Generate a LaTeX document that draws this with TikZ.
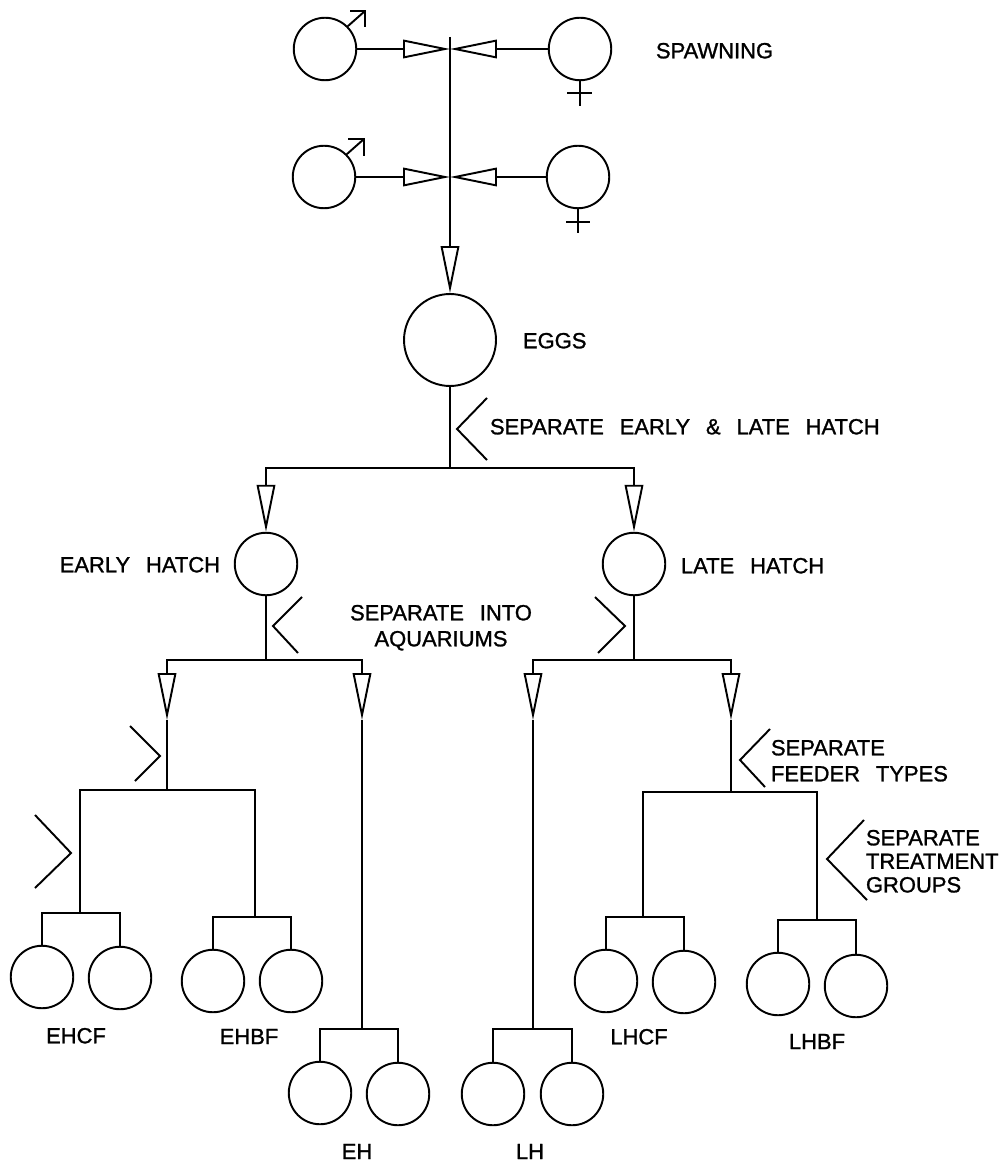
\documentclass[tikz,border=0pt]{standalone}
\usepackage{fontspec}
\newfontfamily\lettering[WordSpace=2.6,FakeBold=1.2]{Liberation Sans}
\usetikzlibrary{arrows.meta}
\tikzset{
  ring/.style={circle,draw,minimum size=1.25cm,inner sep=0pt},
  bigring/.style={circle,draw,minimum size=1.84cm,inner sep=0pt},
  lbl/.style={font={\lettering\fontsize{12.5}{14.8}\selectfont},inner sep=0pt},
  tightlbl/.style={font={\lettering\fontsize{12.5}{13.4}\selectfont},inner sep=0pt},
  arrowto/.style={-{Triangle[open,length=0.94cm,width=0.37cm]}}
}
\begin{document}
\begin{tikzpicture}[x=0.02cm,y=-0.02cm,line width=1.1pt]
\useasboundingbox (0,0) rectangle (1006,1165);
% spawning
\node[ring] (m1) at (325,49) {};
\node[ring] (f1) at (580,49) {};
\node[ring] (m2) at (324,177) {};
\node[ring] (f2) at (578,177) {};
\coordinate (c1) at (450,49);
\coordinate (c2) at (450,177);
\coordinate (ttop) at (450,37);
\node[bigring] (eggs) at (450,340) {};
\coordinate (j0) at (450,468);
\node[ring] (eh) at (266,564) {};
\node[ring] (lh) at (634,564) {};
\coordinate (j1) at (266,660);
\coordinate (j2) at (634,660);
\coordinate (ea) at (167,720);
\coordinate (eb) at (362,720);
\coordinate (la) at (533,720);
\coordinate (lb) at (731,720);
\coordinate (ej) at (167,790);
\coordinate (ecf) at (80,913);
\coordinate (ebf) at (255,917);
\coordinate (ehj) at (362,1029);
\coordinate (lhj) at (533,1029);
\coordinate (lj) at (731,792);
\coordinate (lcf) at (643,917);
\coordinate (lbf) at (817,920);
% bottom circles
\node[ring] (ehcf1) at (42,977) {};
\node[ring] (ehcf2) at (120,978) {};
\node[ring] (ehbf1) at (213,981) {};
\node[ring] (ehbf2) at (291,981) {};
\node[ring] (eh1) at (320,1093) {};
\node[ring] (eh2) at (398,1094) {};
\node[ring] (lh1) at (493,1094) {};
\node[ring] (lh2) at (572,1094) {};
\node[ring] (lhcf1) at (606,981) {};
\node[ring] (lhcf2) at (684,982) {};
\node[ring] (lhbf1) at (778,984) {};
\node[ring] (lhbf2) at (856,986) {};
% sex symbols
\draw (m1.north east) -- (365,11) (350,11) -- (365,11) -- (365,27);
\draw (m2.north east) -- (364,139) (348,139) -- (364,139) -- (364,156);
\draw (f1.south) -- ++(0,25) (567,93) -- (592,93);
\draw (f2.south) -- ++(0,24) (566,222) -- (590,222);
% connectors
\draw[arrowto] (m1) -- (c1);
\draw[arrowto] (f1) -- (c1);
\draw[arrowto] (m2) -- (c2);
\draw[arrowto] (f2) -- (c2);
\draw[arrowto] (ttop) -- (eggs);
\draw (eggs) -- (j0);
\draw[arrowto] (j0) -| (eh);
\draw[arrowto] (j0) -| (lh);
\draw (eh) -- (j1);
\draw[arrowto] (j1) -| (ea);
\draw[arrowto] (j1) -| (eb);
\draw (lh) -- (j2);
\draw[arrowto] (j2) -| (la);
\draw[arrowto] (j2) -| (lb);
\draw (ea) -- (ej);
\draw (ej) -| (ecf);
\draw (ej) -| (ebf);
\draw (ecf) -| (ehcf1);
\draw (ecf) -| (ehcf2);
\draw (ebf) -| (ehbf1);
\draw (ebf) -| (ehbf2);
\draw (eb) -- (ehj);
\draw (ehj) -| (eh1);
\draw (ehj) -| (eh2);
\draw (la) -- (lhj);
\draw (lhj) -| (lh1);
\draw (lhj) -| (lh2);
\draw (lb) -- (lj);
\draw (lj) -| (lcf);
\draw (lj) -| (lbf);
\draw (lcf) -| (lhcf1);
\draw (lcf) -| (lhcf2);
\draw (lbf) -| (lhbf1);
\draw (lbf) -| (lhbf2);
% chevrons
\draw (487,398) -- (457,429) -- (487,460);
\draw (302,597) -- (273,626) -- (298,653);
\draw (595,597) -- (625,626) -- (598,653);
\draw (130,726) -- (160,756) -- (135,781);
\draw (35,815) -- (71,853) -- (35,888);
\draw (770,729) -- (740,760) -- (765,787);
\draw (864,820) -- (827,859) -- (867,900);
% labels
\node[lbl,anchor=north west] (tspawn) at (655,42) {SPAWNING};
\node[lbl,anchor=north west] (teggs) at (522,332) {EGGS};
\node[lbl,anchor=north west] (tsep1) at (489,418) {SEPARATE EARLY \& LATE HATCH};
\node[lbl,anchor=north east] (tearly) at (221,556) {EARLY HATCH};
\node[lbl,anchor=north west] (tlate) at (680,557) {LATE HATCH};
\node[lbl,anchor=north,align=center] (tsep2) at (441,604) {SEPARATE INTO\\AQUARIUMS};
\node[lbl,anchor=north west,align=left] (tsep3) at (770,739) {SEPARATE\\FEEDER TYPES};
\node[tightlbl,anchor=north west,align=left] (tsep4) at (865,829) {SEPARATE\\TREATMENT\\GROUPS};
\node[lbl,anchor=north] (tehcf) at (76,1027) {EHCF};
\node[lbl,anchor=north] (tehbf) at (249,1028) {EHBF};
\node[lbl,anchor=north] (teh) at (357,1143) {EH};
\node[lbl,anchor=north] (tlh) at (530,1143) {LH};
\node[lbl,anchor=north] (tlhcf) at (639,1028) {LHCF};
\node[lbl,anchor=north] (tlhbf) at (817,1033) {LHBF};
\end{tikzpicture}
\end{document}
